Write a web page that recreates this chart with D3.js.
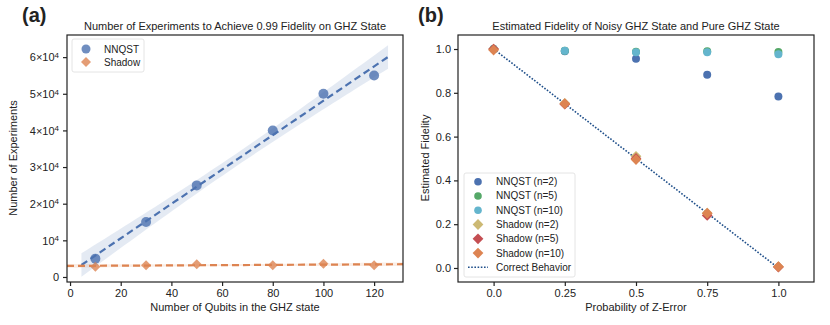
<!DOCTYPE html>
<html>
<head>
<meta charset="utf-8">
<script src="https://cdn.jsdelivr.net/npm/d3@7"></script>
<style>
  body { margin: 0; background: #fff; }
  svg text { font-family: "Liberation Sans", Arial, sans-serif; fill: #222; }
</style>
</head>
<body>
<div id="chart"></div>
<script>
// ---- data, panel (a)
var qubits = [10, 30, 50, 80, 100, 120];
var nnqstExperiments = [5000, 15000, 25000, 40000, 50000, 55000];
var shadowExperiments = [2800, 3200, 3500, 3200, 3600, 3200];
var expTicks = [0, 10000, 20000, 30000, 40000, 50000, 60000];
var qubitTicks = [0, 20, 40, 60, 80, 100, 120];

// ---- data, panel (b)
var zError = [0, 0.25, 0.5, 0.75, 1.0];
var nnqst2 = [1.0, 0.99, 0.955, 0.882, 0.783];
var nnqst5 = [1.0, 0.992, 0.987, 0.99, 0.986];
var nnqst10 = [1.0, 0.992, 0.985, 0.985, 0.976];
var shadow2 = [1.0, 0.752, 0.51, 0.25, 0.006];
var shadow5 = [1.0, 0.748, 0.5, 0.24, 0.004];
var shadow10 = [0.995, 0.75, 0.495, 0.25, 0.006];
var fidelityTicks = [0.0, 0.2, 0.4, 0.6, 0.8, 1.0];
var zTicks = [0.0, 0.25, 0.5, 0.75, 1.0];
var zTickLabels = ["0.0", "0.25", "0.5", "0.75", "1.0"];

var svg = d3.select("#chart").append("svg")
    .attr("width", 830)
    .attr("height", 325);

// ================= panel (a) =================
var A = {left: 67, right: 403, top: 35, bottom: 282};
var xA = d3.scaleLinear().domain([-1.2, 131.4]).range([A.left, A.right]);
var yA = d3.scaleLinear().domain([-1370, 66040]).range([A.bottom, A.top]);

svg.append("clipPath").attr("id", "clipA")
  .append("rect").attr("x", A.left).attr("y", A.top)
  .attr("width", A.right - A.left).attr("height", A.bottom - A.top);

// least squares fit with a 95% band, like seaborn regplot
function fit(xs, ys) {
    var n = xs.length, mx = d3.mean(xs), my = d3.mean(ys);
    var sxx = d3.sum(xs, d => (d - mx) * (d - mx));
    var sxy = d3.sum(xs, (d, i) => (d - mx) * (ys[i] - my));
    var b = sxy / sxx, a = my - b * mx;
    var sse = d3.sum(xs, (d, i) => Math.pow(ys[i] - (a + b * d), 2));
    var s = Math.sqrt(sse / (n - 2));
    var t = 2.4;
    return {
        f: x => a + b * x,
        ci: x => t * s * Math.sqrt(1 / n + (x - mx) * (x - mx) / sxx)
    };
}

function drawFit(xs, ys, x0, x1, color, bandColor) {
    var m = fit(xs, ys);
    var pts = d3.range(0, 51).map(i => x0 + (x1 - x0) * i / 50);
    var g = svg.append("g").attr("clip-path", "url(#clipA)");
    g.append("path")
        .datum(pts)
        .attr("d", d3.area()
            .x(d => xA(d))
            .y0(d => yA(m.f(d) - m.ci(d)))
            .y1(d => yA(m.f(d) + m.ci(d))))
        .attr("fill", bandColor)
        .attr("opacity", 0.15);
    g.append("path")
        .datum([x0, x1])
        .attr("d", d3.line().x(d => xA(d)).y(d => yA(m.f(d))))
        .attr("stroke", color)
        .attr("stroke-width", 2.2)
        .attr("stroke-dasharray", "7,4")
        .attr("fill", "none");
}

var blue = "#4c72b0", orange = "#dd8452";

// points first (seaborn draws scatter then line)
svg.append("g").selectAll("circle")
    .data(qubits)
    .enter()
    .append("circle")
    .attr("cx", d => xA(d))
    .attr("cy", (d, i) => yA(nnqstExperiments[i]))
    .attr("r", 5)
    .attr("fill", blue)
    .attr("opacity", 0.8);

var diamond = d3.symbol().type(d3.symbolSquare).size(50);
svg.append("g").selectAll("path")
    .data(qubits)
    .enter()
    .append("path")
    .attr("d", diamond)
    .attr("transform", (d, i) => "translate(" + xA(d) + "," + yA(shadowExperiments[i]) + ") rotate(45)")
    .attr("fill", orange)
    .attr("opacity", 0.8);

drawFit(qubits, nnqstExperiments, 4.5, 125.5, blue, blue);
drawFit(qubits, shadowExperiments, -1.2, 131.4, orange, orange);

// axes (a)
svg.append("g")
    .attr("transform", "translate(0," + A.bottom + ")")
    .call(d3.axisBottom(xA).tickValues(qubitTicks).tickSize(4).tickPadding(3));
var yAxisA = svg.append("g")
    .attr("transform", "translate(" + A.left + ",0)")
    .call(d3.axisLeft(yA).tickValues(expTicks).tickSize(4).tickPadding(3).tickFormat(""));

// superscript tick labels: 0, 10^4, 2x10^4 ...
yAxisA.selectAll(".tick").each(function(d) {
    var t = d3.select(this).append("text")
        .attr("class", "sup")
        .attr("x", -8).attr("dy", "0.35em")
        .attr("text-anchor", "end")
        .style("font-size", "11px");
    if (d === 0) { t.text("0"); return; }
    var k = d / 10000;
    t.append("tspan").text(k === 1 ? "10" : k + "\u00d710");
    t.append("tspan").attr("dy", "-0.45em").style("font-size", "8px").text("4");
});

// frame (a)
svg.append("rect")
    .attr("x", A.left).attr("y", A.top)
    .attr("width", A.right - A.left).attr("height", A.bottom - A.top)
    .attr("fill", "none").attr("stroke", "#222").attr("stroke-width", 1.2);

// legend (a)
var legA = svg.append("g");
legA.append("rect")
    .attr("x", 72).attr("y", 39).attr("width", 72).attr("height", 33).attr("rx", 2)
    .attr("fill", "#fff").attr("fill-opacity", 0.8)
    .attr("stroke", "#ddd").attr("stroke-width", 0.8);
legA.append("circle").attr("cx", 86).attr("cy", 49).attr("r", 4.5).attr("fill", blue).attr("opacity", 0.8);
legA.append("path").attr("d", diamond)
    .attr("transform", "translate(86,62) rotate(45)").attr("fill", orange).attr("opacity", 0.8);
legA.append("text").attr("x", 104).attr("y", 52.5).style("font-size", "10px").text("NNQST");
legA.append("text").attr("x", 104).attr("y", 65.5).style("font-size", "10px").text("Shadow");

svg.append("text").attr("x", 235).attr("y", 30).attr("text-anchor", "middle")
    .style("font-size", "11px").text("Number of Experiments to Achieve 0.99 Fidelity on GHZ State");
svg.append("text").attr("x", 235).attr("y", 311).attr("text-anchor", "middle")
    .style("font-size", "11px").text("Number of Qubits in the GHZ state");
svg.append("text").attr("transform", "translate(17,158) rotate(-90)").attr("text-anchor", "middle")
    .style("font-size", "11px").text("Number of Experiments");
svg.append("text").attr("x", 22).attr("y", 22)
    .style("font-size", "20px").style("font-weight", "bold").text("(a)");

// ================= panel (b) =================
var B = {left: 458, right: 814, top: 35, bottom: 282};
var xB = d3.scaleLinear().domain([-0.125, 1.125]).range([B.left, B.right]);
var yB = d3.scaleLinear().domain([-0.064, 1.064]).range([B.bottom, B.top]);

var seriesB = [
    {name: "NNQST (n=2)", values: nnqst2, color: "#4c72b0", shape: "circle"},
    {name: "NNQST (n=5)", values: nnqst5, color: "#55a868", shape: "circle"},
    {name: "NNQST (n=10)", values: nnqst10, color: "#64b5cd", shape: "circle"},
    {name: "Shadow (n=2)", values: shadow2, color: "#ccb974", shape: "diamond"},
    {name: "Shadow (n=5)", values: shadow5, color: "#c44e52", shape: "diamond"},
    {name: "Shadow (n=10)", values: shadow10, color: "#dd8452", shape: "diamond"}
];
var diamondB = d3.symbol().type(d3.symbolSquare).size(58);

// correct behaviour line
svg.append("path")
    .datum(zError)
    .attr("d", d3.line().x(d => xB(d)).y(d => yB(1 - d)))
    .attr("stroke", "#1f4f8a").attr("stroke-width", 1.6)
    .attr("stroke-dasharray", "1.6,1.6").attr("fill", "none");

seriesB.forEach(function(s) {
    var g = svg.append("g");
    if (s.shape === "circle") {
        g.selectAll("circle").data(zError).enter().append("circle")
            .attr("cx", d => xB(d))
            .attr("cy", (d, i) => yB(s.values[i]))
            .attr("r", 4)
            .attr("fill", s.color);
    } else {
        g.selectAll("path").data(zError).enter().append("path")
            .attr("d", diamondB)
            .attr("transform", (d, i) => "translate(" + xB(d) + "," + yB(s.values[i]) + ") rotate(45)")
            .attr("fill", s.color);
    }
});

svg.append("g")
    .attr("transform", "translate(0," + B.bottom + ")")
    .call(d3.axisBottom(xB).tickValues(zTicks).tickSize(4).tickPadding(3)
        .tickFormat((d, i) => zTickLabels[i]));
svg.append("g")
    .attr("transform", "translate(" + B.left + ",0)")
    .call(d3.axisLeft(yB).tickValues(fidelityTicks).tickSize(4).tickPadding(3)
        .tickFormat(d3.format(".1f")));

svg.append("rect")
    .attr("x", B.left).attr("y", B.top)
    .attr("width", B.right - B.left).attr("height", B.bottom - B.top)
    .attr("fill", "none").attr("stroke", "#222").attr("stroke-width", 1.2);

// legend (b)
var legB = svg.append("g");
legB.append("rect")
    .attr("x", 464).attr("y", 173).attr("width", 111).attr("height", 104).attr("rx", 2)
    .attr("fill", "#fff").attr("fill-opacity", 0.8)
    .attr("stroke", "#ddd").attr("stroke-width", 0.8);
seriesB.forEach(function(s, i) {
    var cy = 181.7 + i * 14.27;
    if (s.shape === "circle") {
        legB.append("circle").attr("cx", 478).attr("cy", cy).attr("r", 3.8).attr("fill", s.color);
    } else {
        legB.append("path").attr("d", diamondB)
            .attr("transform", "translate(478," + cy + ") rotate(45)").attr("fill", s.color);
    }
    legB.append("text").attr("x", 496).attr("y", cy + 3.5).style("font-size", "10px").text(s.name);
});
var lastY = 181.7 + 6 * 14.27;
legB.append("line").attr("x1", 468).attr("x2", 488).attr("y1", lastY).attr("y2", lastY)
    .attr("stroke", "#1f4f8a").attr("stroke-width", 1.6).attr("stroke-dasharray", "1.6,1.6");
legB.append("text").attr("x", 496).attr("y", lastY + 3.5).style("font-size", "10px").text("Correct Behavior");

svg.append("text").attr("x", 636).attr("y", 30).attr("text-anchor", "middle")
    .style("font-size", "11px").text("Estimated Fidelity of Noisy GHZ State and Pure GHZ State");
svg.append("text").attr("x", 636).attr("y", 311).attr("text-anchor", "middle")
    .style("font-size", "11px").text("Probability of Z-Error");
svg.append("text").attr("transform", "translate(429,158) rotate(-90)").attr("text-anchor", "middle")
    .style("font-size", "11px").text("Estimated Fidelity");
svg.append("text").attr("x", 418).attr("y", 22)
    .style("font-size", "20px").style("font-weight", "bold").text("(b)");

svg.selectAll(".tick text:not(.sup)").style("font-size", "11px").attr("fill", "#222");
svg.selectAll(".tick line").attr("stroke", "#222").attr("stroke-width", 1.2);
svg.selectAll(".domain").remove();
</script>
</body>
</html>
